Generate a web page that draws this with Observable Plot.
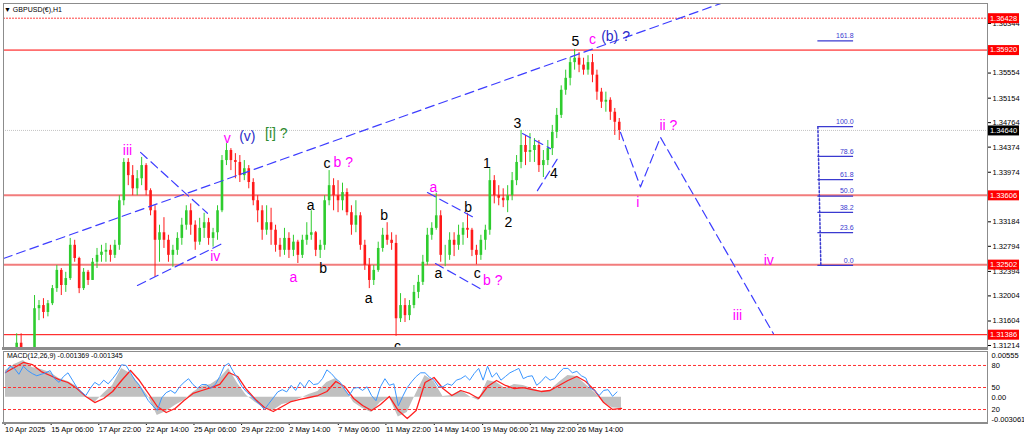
<!DOCTYPE html>
<html>
<head>
<meta charset="utf-8">
<script src="https://cdn.jsdelivr.net/npm/d3@7"></script>
<script src="https://cdn.jsdelivr.net/npm/@observablehq/plot@0.6"></script>
<style>
html,body{margin:0;padding:0;background:#fff;}
#wrap{position:relative;width:1024px;height:441px;overflow:hidden;background:#fff;font-family:"Liberation Sans",Arial,sans-serif;}
#wrap svg{position:absolute;left:0;}
.lbl{position:absolute;white-space:nowrap;color:#000;line-height:1;}
.sep{position:absolute;left:2px;width:986px;background:#8c8c8c;}
</style>
</head>
<body>
<div id="wrap"></div>
<script>
// ---------------- DATA ----------------
const title = "GBPUSD(\u20ac),H1";
const macdTitle = "MACD(12,26,9) -0.001369 -0.001345";
const barsPerCandle = 6;           // each candle aggregates 6 H1 bars
const firstOpen = 1.3055;

const highs = [
1.3085,1.3105,1.3140,1.3140,1.3112,1.3115,1.3201,1.3193,1.3196,1.3193,
1.3217,1.3249,1.3244,1.3238,1.3292,1.3289,1.3262,1.3244,1.3241,1.3260,
1.3276,1.3281,1.3284,1.3281,1.3289,1.3360,1.3419,1.3419,1.3408,1.3400,
1.3421,1.3411,1.3371,1.3344,1.3313,1.3325,1.3297,1.3281,1.3301,1.3324,
1.3344,1.3347,1.3320,1.3324,1.3332,1.3324,1.3308,1.3344,1.3424,1.3443,
1.3435,1.3427,1.3424,1.3416,1.3408,1.3387,1.3360,1.3344,1.3344,1.3340,
1.3313,1.3292,1.3308,1.3301,1.3297,1.3289,1.3297,1.3317,1.3336,1.3303,
1.3289,1.3360,1.3400,1.3387,1.3384,1.3380,1.3371,1.3344,1.3352,1.3333,
1.3289,1.3260,1.3249,1.3286,1.3308,1.3317,1.3301,1.3297,1.3204,1.3196,
1.3193,1.3217,1.3233,1.3265,1.3308,1.3317,1.3364,1.3336,1.3281,1.3301,
1.3301,1.3313,1.3317,1.3332,1.3308,1.3281,1.3297,1.3313,1.3403,1.3392,
1.3376,1.3371,1.3376,1.3397,1.3424,1.3464,1.3456,1.3459,1.3451,1.3448,
1.3432,1.3448,1.3472,1.3499,1.3535,1.3560,1.3580,1.3593,1.3588,1.3579,
1.3583,1.3585,1.3560,1.3531,1.3525,1.3516,1.3499,1.3483];
const lows = [
1.3050,1.3070,1.3090,1.3105,1.3080,1.3075,1.3100,1.3161,1.3164,1.3167,
1.3185,1.3206,1.3201,1.3206,1.3225,1.3254,1.3204,1.3209,1.3217,1.3225,
1.3244,1.3254,1.3254,1.3254,1.3260,1.3273,1.3344,1.3376,1.3360,1.3360,
1.3376,1.3360,1.3328,1.3230,1.3254,1.3276,1.3254,1.3246,1.3265,1.3281,
1.3305,1.3297,1.3273,1.3281,1.3292,1.3281,1.3278,1.3289,1.3333,1.3408,
1.3400,1.3387,1.3381,1.3384,1.3371,1.3344,1.3317,1.3289,1.3297,1.3281,
1.3270,1.3262,1.3265,1.3260,1.3263,1.3252,1.3260,1.3281,1.3289,1.3263,
1.3260,1.3273,1.3344,1.3336,1.3333,1.3336,1.3328,1.3297,1.3301,1.3273,
1.3241,1.3212,1.3217,1.3238,1.3270,1.3281,1.3273,1.3136,1.3158,1.3158,
1.3161,1.3180,1.3196,1.3217,1.3249,1.3289,1.3305,1.3254,1.3247,1.3257,
1.3263,1.3273,1.3281,1.3292,1.3263,1.3250,1.3257,1.3273,1.3297,1.3347,
1.3344,1.3341,1.3333,1.3352,1.3376,1.3403,1.3408,1.3413,1.3413,1.3397,
1.3389,1.3408,1.3424,1.3451,1.3483,1.3520,1.3535,1.3560,1.3556,1.3552,
1.3552,1.3540,1.3512,1.3499,1.3493,1.3480,1.3456,1.3448];
const closes = [
1.3080,1.3095,1.3125,1.3110,1.3095,1.3108,1.3180,1.3185,1.3174,1.3188,
1.3212,1.3241,1.3217,1.3228,1.3281,1.3260,1.3212,1.3238,1.3225,1.3254,
1.3265,1.3270,1.3273,1.3265,1.3281,1.3352,1.3413,1.3392,1.3371,1.3387,
1.3408,1.3368,1.3336,1.3289,1.3301,1.3289,1.3265,1.3273,1.3292,1.3313,
1.3336,1.3313,1.3286,1.3308,1.3317,1.3292,1.3301,1.3336,1.3416,1.3432,
1.3416,1.3413,1.3392,1.3403,1.3381,1.3352,1.3336,1.3305,1.3317,1.3305,
1.3281,1.3273,1.3292,1.3273,1.3286,1.3265,1.3289,1.3297,1.3301,1.3273,
1.3281,1.3352,1.3376,1.3360,1.3352,1.3365,1.3333,1.3313,1.3328,1.3281,
1.3249,1.3225,1.3241,1.3276,1.3297,1.3289,1.3284,1.3164,1.3185,1.3169,
1.3185,1.3206,1.3222,1.3254,1.3297,1.3308,1.3328,1.3265,1.3265,1.3289,
1.3281,1.3297,1.3308,1.3305,1.3273,1.3265,1.3289,1.3305,1.3384,1.3360,
1.3356,1.3352,1.3360,1.3384,1.3413,1.3440,1.3429,1.3432,1.3440,1.3408,
1.3416,1.3435,1.3461,1.3488,1.3528,1.3547,1.3572,1.3579,1.3568,1.3560,
1.3572,1.3552,1.3525,1.3509,1.3512,1.3493,1.3477,1.3464];

// MACD panel (one value every 12 H1 bars)
const macdStep = 12;
const macdMain = [
0.00325,0.00397,0.00446,0.00361,0.00337,0.00300,0.00228,0.00191,0.00130,0.00009,
-0.00064,0.00046,0.00143,0.00349,0.00288,0.00155,0.00009,-0.00221,-0.00173,-0.00100,
-0.00039,0.00058,0.00130,0.00155,0.00228,0.00349,0.00167,0.00021,-0.00064,-0.00136,
-0.00161,-0.00088,-0.00064,-0.00015,0.00033,0.00070,0.00179,0.00228,0.00106,-0.00064,
-0.00136,-0.00185,-0.00064,0.00000,-0.00240,-0.00185,0.00046,0.00264,0.00191,0.00009,
0.00021,0.00082,0.00009,-0.00039,0.00203,0.00179,0.00106,0.00155,0.00143,0.00106,
0.00070,0.00082,0.00179,0.00264,0.00252,0.00155,0.00058,-0.00064,-0.00130,-0.001369];
const macdSignal = [
0.00300,0.00361,0.00422,0.00397,0.00312,0.00264,0.00215,0.00179,0.00106,0.00009,
-0.00064,-0.00015,0.00070,0.00203,0.00325,0.00203,0.00046,-0.00112,-0.00185,-0.00136,
-0.00039,0.00046,0.00082,0.00118,0.00155,0.00300,0.00252,0.00094,-0.00027,-0.00124,
-0.00173,-0.00112,-0.00052,-0.00027,-0.00003,0.00021,0.00070,0.00191,0.00130,-0.00015,
-0.00100,-0.00161,-0.00088,0.00009,-0.00161,-0.00258,-0.00161,0.00179,0.00240,0.00106,
0.00021,0.00082,0.00046,-0.00015,0.00130,0.00203,0.00143,0.00106,0.00118,0.00094,
0.00070,0.00082,0.00143,0.00203,0.00252,0.00191,0.00082,-0.00064,-0.00148,-0.001345];
// oscillator overlay (0-100), one value every 6 H1 bars
const oscStep = 6;
const oscValues = [
70,79,76,68,79,73,69,66,68,70, 73,62,57,65,70,60,50,44,39,49,
57,53,60,55,62,70,81,80,70,60, 53,42,32,25,19,36,43,46,42,51,
57,62,54,49,54,54,49,54,65,79, 83,72,62,51,44,39,32,27,20,28,
36,44,47,44,53,46,57,50,60,54, 55,62,74,69,62,57,47,39,49,50,
46,51,39,32,51,62,53,55,25,38, 50,58,65,70,70,64,60,51,51,55,
53,60,62,66,60,69,76,60,79,64, 70,60,65,70,73,76,62,65,66,53,
58,65,60,62,70,76,76,70,72,66, 63,49,46,39,46,47,38,44];
const oscLevels = [80, 50, 20];

// price axis
const priceTicks = [1.36344,1.35554,1.35154,1.34764,1.34374,1.33974,1.33184,1.32794,1.32394,1.32004,1.31604,1.31214];
const redLevelsThin = [1.35920, 1.31386];
const redLevelsDotted = [1.36428];
const redLevelsThick = [1.33606, 1.32502];
const currentPrice = 1.34640;
const tagPrices = [1.36428, 1.35920, 1.33606, 1.32502, 1.31386];

// time axis (H1 bar index -> label)
const tickBars = [-2, 60, 124, 188, 252, 316, 380, 446, 510, 575, 640, 704, 768];
const tickLabels = ["10 Apr 2025","15 Apr 06:00","17 Apr 22:00","22 Apr 14:00","25 Apr 06:00","29 Apr 22:00","2 May 14:00","7 May 06:00","11 May 22:00","14 May 14:00","19 May 06:00","21 May 22:00","26 May 14:00"];

// dashed blue guide lines (bar index, price)
const guideIds    = [1,1, 2,2, 3,3, 4,4, 5,5, 6,6, 7,7, 8,8,8,8];
const guideBars   = [-2.7,961, 181.5,271.5, 177.4,291.7, 567.2,631.7, 578,642.5, 694.9,732.5, 715,742, 826.6,853.5,880.4,1032.3];
const guidePrices = [1.3260,1.3666, 1.3429,1.3332, 1.3217,1.3284, 1.3365,1.3324, 1.3252,1.3209, 1.3459,1.3435, 1.3368,1.3419, 1.3461,1.3374,1.3453,1.3140];

// Fibonacci retracement tool
const fibRatios = [0, 23.6, 38.2, 50, 61.8, 78.6, 100, 161.8];
const fibLow = 1.3249, fibHigh = 1.3470;
const fibStartBar = 1092, fibEndBar = 1140, fibBaseBar = 1096;

// Elliott wave labels
const waveText   = ["iii","iv","v","(v)","[i] ?","a","a","b","c","b ?","a","b","c","a","a","b","c","b ?","1","2","3","4","5","c","(b) ?","i","ii ?","iii","iv"];
const waveBars   = [164,282,298,325,364,387,410,427,432,454,488,509,527,575,582,622,634,655,647,676,688,737,766,789,820,850,891,984,1026];
const wavePrices = [1.3432,1.3263,1.3451,1.3454,1.3459,1.3230,1.3344,1.3244,1.3411,1.3413,1.3196,1.3328,1.3119,1.3373,1.3236,1.3341,1.3236,1.3225,1.3411,1.3317,1.3475,1.3395,1.3606,1.3609,1.3613,1.3349,1.3472,1.3169,1.3257];
const waveColors = ["#ff00ff","#ff00ff","#ff00ff","#2b2bc8","#2e8b2e","#ff00ff","#000","#000","#000","#ff00ff","#000","#000","#000","#ff00ff","#000","#000","#000","#ff00ff","#000","#000","#000","#000","#000","#ff00ff","#2b2bc8","#ff00ff","#ff00ff","#ff00ff","#ff00ff"];

// ---------------- BUILD ----------------
const FONT = "Liberation Sans, Arial, sans-serif";
const X_DOMAIN = [-2.7, 1320];
const bull = "#2ecc2e", bear = "#ff1a1a";

const candles = closes.map((c, i) => ({
  t: i * barsPerCandle + barsPerCandle / 2,
  o: i ? closes[i - 1] : firstOpen, h: highs[i], l: lows[i], c
}));
const up = candles.filter(d => d.c >= d.o), down = candles.filter(d => d.c < d.o);
const guides = guideIds.map((id, i) => ({id, t: guideBars[i], p: guidePrices[i]}));
const fibRows = fibRatios.map(r => ({r, p: fibLow + (fibHigh - fibLow) * r / 100}));
const fibBase = [{t: fibStartBar, p: fibHigh}, {t: fibBaseBar, p: fibLow}];
const waves = waveText.map((text, i) => ({text, t: waveBars[i], p: wavePrices[i], c: waveColors[i]}));
const tags = tagPrices.map(p => ({p, bg: "#ff0000"})).concat([{p: currentPrice, bg: "#000000"}]);
const macdRows = macdMain.map((m, j) => ({t: j * macdStep, m, s: macdSignal[j]}));
const oscRows = oscValues.map((v, k) => ({t: k * oscStep, v}));
const labelAt = new Map(tickBars.map((b, i) => [b, tickLabels[i]]));
const tagSymbol = {draw(ctx) { ctx.rect(-15.5, -5, 31, 10); }};

const main = Plot.plot({
  width: 1024, height: 349, marginLeft: 3, marginRight: 37, marginTop: 3, marginBottom: 2,
  x: {domain: X_DOMAIN, axis: null},
  y: {domain: [1.31182, 1.36662], axis: null},
  color: {type: "identity"},
  style: {fontFamily: FONT, fontSize: "8px", background: "transparent", overflow: "visible"},
  marks: [
    Plot.ruleY([currentPrice], {stroke: "#c4c4c4", strokeDasharray: "1,1"}),
    Plot.ruleY(redLevelsThick, {stroke: "#f27c7c", strokeWidth: 2}),
    Plot.ruleY(redLevelsThin, {stroke: "#ff0000", strokeWidth: 1}),
    Plot.ruleY(redLevelsDotted, {stroke: "#ff4040", strokeDasharray: "2,1"}),
    Plot.ruleX(up, {x: "t", y1: "l", y2: "h", stroke: bull, strokeWidth: 1, clip: true}),
    Plot.ruleX(down, {x: "t", y1: "l", y2: "h", stroke: bear, strokeWidth: 1, clip: true}),
    Plot.ruleX(up, {x: "t", y1: "o", y2: "c", stroke: bull, strokeWidth: 2.6, clip: true}),
    Plot.ruleX(down, {x: "t", y1: "o", y2: "c", stroke: bear, strokeWidth: 2.6, clip: true}),
    Plot.line(guides, {x: "t", y: "p", z: "id", stroke: "#3d3dff", strokeWidth: 1.2, strokeDasharray: "9,5", clip: true}),
    Plot.line(fibBase, {x: "t", y: "p", stroke: "#3a3ad0", strokeDasharray: "2,2"}),
    Plot.ruleY(fibRows, {y: "p", x1: fibStartBar, x2: fibEndBar, stroke: "#3a3ad0", strokeWidth: 1.2}),
    Plot.text(fibRows, {x: fibEndBar, y: "p", text: d => d.r.toFixed(1), textAnchor: "end", dy: -5, fill: "#3a3ad0", fontSize: 7}),
    Plot.text(waves, {x: "t", y: "p", text: "text", fill: "c", fontSize: 14}),
    Plot.frame({stroke: "#8c8c8c"}),
    Plot.axisY(priceTicks, {anchor: "right", label: null, tickSize: 3, tickPadding: 2, tickFormat: d3.format(".5f"), fontSize: 7.5}),
    Plot.dot(tags, {y: "p", frameAnchor: "right", dx: 16, symbol: tagSymbol, fill: "bg"}),
    Plot.text(tags, {y: "p", frameAnchor: "right", dx: 16, textAnchor: "middle", text: d => d.p.toFixed(5), fill: "#fff", fontSize: 7.5})
  ]
});

const macdPlot = Plot.plot({
  width: 1024, height: 92, marginLeft: 3, marginRight: 37, marginTop: 2, marginBottom: 19,
  x: {domain: X_DOMAIN, axis: null, label: null},
  y: {domain: [-0.003061, 0.00555], axis: null, label: null},
  style: {fontFamily: FONT, fontSize: "7.5px", background: "#fff", overflow: "visible"},
  marks: [
    Plot.areaY(macdRows, {x: "t", y: "m", fill: "#c0c0c0"}),
    Plot.line(macdRows, {x: "t", y: "s", stroke: "#ff2020", strokeWidth: 1.3}),
    Plot.frame({stroke: "#8c8c8c"}),
    Plot.axisX(tickBars, {anchor: "bottom", label: null, tickSize: 3, tickPadding: 1, tickFormat: b => labelAt.get(b), textAnchor: "start", dx: 1, fontSize: 7.5}),
    Plot.axisY([0.00555], {anchor: "right", label: null, tickSize: 0, tickPadding: 4, tickFormat: () => "0.00555", dy: 4, fontSize: 7.5}),
    Plot.axisY([0], {anchor: "right", label: null, tickSize: 0, tickPadding: 4, tickFormat: () => "0.00", fontSize: 7.5}),
    Plot.axisY([-0.003061], {anchor: "right", label: null, tickSize: 0, tickPadding: 4, tickFormat: () => "-0.003061", dy: -3, fontSize: 7.5})
  ]
});

const oscPlot = Plot.plot({
  width: 1024, height: 92, marginLeft: 3, marginRight: 37, marginTop: 1.3, marginBottom: 17.3,
  x: {domain: X_DOMAIN, axis: null, label: null},
  y: {domain: [0, 100], axis: null, label: null},
  style: {fontFamily: FONT, fontSize: "7.5px", background: "transparent", overflow: "visible"},
  marks: [
    Plot.ruleY(oscLevels, {stroke: "#ff3030", strokeDasharray: "3,2"}),
    Plot.line(oscRows, {x: "t", y: "v", stroke: "#3a96ff", strokeWidth: 1}),
    Plot.axisY(oscLevels, {anchor: "right", label: null, tickSize: 0, tickPadding: 4, fontSize: 7.5})
  ]
});

const wrap = document.getElementById("wrap");
function place(el, top) { el.style.top = top + "px"; wrap.appendChild(el); }
place(main, 0);
place(macdPlot, 349);
place(oscPlot, 349);

function addDiv(cls, css, text) {
  const d = document.createElement("div");
  d.className = cls; d.style.cssText = css; if (text) d.textContent = text;
  wrap.appendChild(d);
}
addDiv("sep", "top:347px;height:3px;");
addDiv("sep", "top:422px;height:2px;");
addDiv("lbl", "left:4px;top:6px;font-size:7px;", "\u25bc " + title);
addDiv("lbl", "left:7px;top:352px;font-size:7px;", macdTitle);
</script>
</body>
</html>
